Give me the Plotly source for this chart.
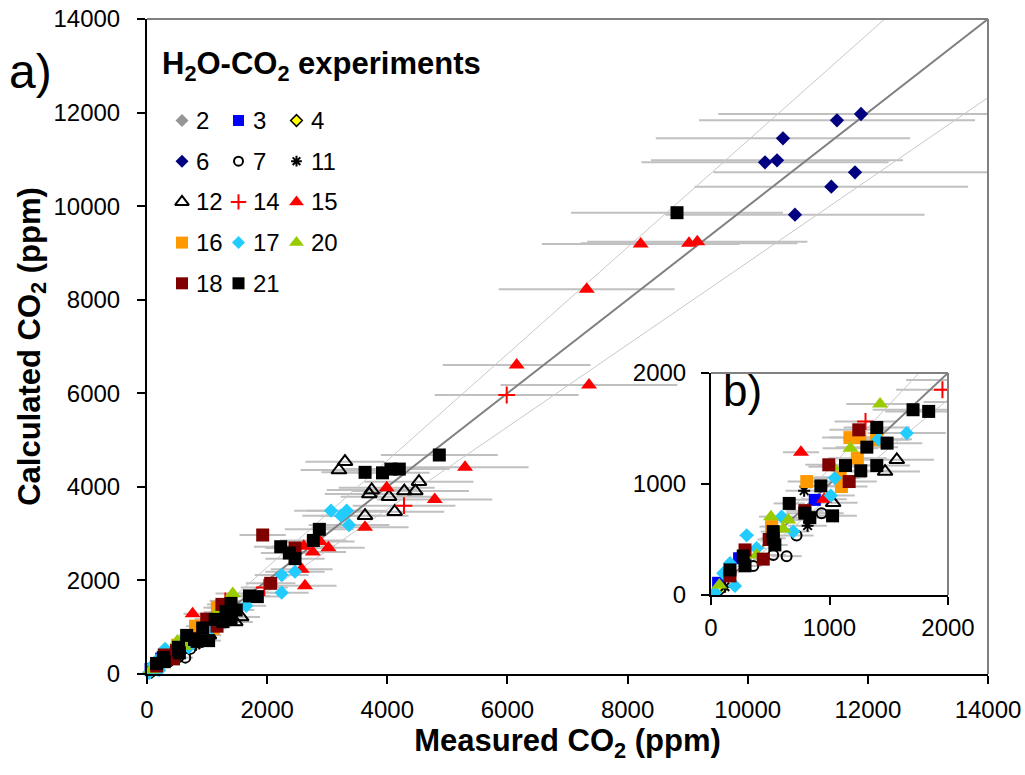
import plotly.graph_objects as go

# ---------------- data (measured CO2, calculated CO2), ppm ----------------
SERIES = ["2", "3", "4", "6", "7", "11", "12", "14", "15", "16", "17", "20", "18", "21"]

x2 = [45]
y2 = [35]
x3 = [876, 237, 60]
y3 = [857, 331, 110]
x4 = [80]
y4 = [55]
x6 = [11886, 11486, 10587, 10288, 10488, 11786, 11392, 10787]
y6 = [11969, 11834, 11450, 10937, 10980, 10723, 10416, 9817]
x7 = [933, 722, 525, 638, 357]
y7 = [737, 537, 361, 350, 262]
x11 = [786, 815, 118]
y11 = [940, 625, 75]
x12 = [3296, 3196, 4528, 3741, 3701, 4029, 4283, 4467, 3629, 4123, 1568, 1469, 1031]
y12 = [4538, 4360, 4110, 3933, 3847, 3790, 3911, 3911, 3384, 3469, 1218, 1112, 830]
x14 = [5988, 4278, 1953, 1304]
y14 = [5963, 3597, 1849, 1563]
x15 = [8218, 9023, 9161, 7320, 6154, 7358, 5294, 4790, 3990, 3629, 3020, 2880, 2610, 2760, 2575, 2630, 759, 955]
y15 = [9190, 9206, 9240, 8222, 6605, 6177, 4418, 3730, 3980, 3135, 2700, 2830, 2730, 2610, 2240, 1888, 1287, 863]
x16 = [1172, 1256, 1397, 1235, 808, 1101, 1090, 511]
y16 = [1418, 1418, 1398, 1233, 1022, 977, 1060, 616]
x17 = [3063, 3230, 3324, 3363, 2464, 2242, 2242, 1652, 1413, 1045, 1011, 694, 596, 301, 385, 202, 34, 160, 104]
y17 = [3491, 3384, 3491, 3185, 2187, 2116, 1738, 1459, 1404, 1053, 896, 571, 706, 538, 421, 82, 22, 286, 196]
x20 = [1427, 1177, 1028, 506, 652, 609, 385, 70]
y20 = [1720, 1323, 1155, 706, 676, 595, 361, 90]
x18 = [1926, 2464, 2059, 1247, 994, 1166, 792, 491, 287, 441, 160]
y18 = [2971, 2693, 1938, 1488, 1173, 1022, 760, 500, 406, 323, 172]
x21 = [8823, 4866, 3630, 3920, 4060, 4200, 2869, 2769, 2226, 2369, 2464, 1705, 1837, 1399, 1486,
       1315, 1399, 1264, 1135, 927, 1026, 792, 834, 660, 525, 525, 539, 272, 287, 160]
y21 = [9860, 4681, 4310, 4300, 4380, 4380, 3092, 2855, 2721, 2586, 2465, 1669, 1654, 1509, 1368,
       1332, 1166, 1119, 1166, 983, 713, 737, 697, 825, 571, 511, 451, 351, 263, 226]

REL_ERROR = 0.20                 # horizontal error bars, fraction of measured value
REF_SLOPES = [1.0, 1.14, 0.88]   # 1:1 line and the two envelope lines
MAIN_TICKS = [0, 2000, 4000, 6000, 8000, 10000, 12000, 14000]
INSET_TICKS = [0, 1000, 2000]

DATA = {
    "2": (x2, y2), "3": (x3, y3), "4": (x4, y4), "6": (x6, y6), "7": (x7, y7),
    "11": (x11, y11), "12": (x12, y12), "14": (x14, y14), "15": (x15, y15),
    "16": (x16, y16), "17": (x17, y17), "20": (x20, y20), "18": (x18, y18), "21": (x21, y21),
}

# ---------------- styles ----------------
STYLE = {
    "2": dict(symbol="diamond", size=11, color="#969696"),
    "3": dict(symbol="square", size=12, color="#0000FF"),
    "4": dict(symbol="diamond", size=10, color="#FFFF00", line=dict(color="black", width=1.5)),
    "6": dict(symbol="diamond", size=11, color="#000080"),
    "7": dict(symbol="circle-open", size=10, color="black", line=dict(color="black", width=2)),
    "11": dict(symbol="asterisk-open", size=10, color="black", line=dict(color="black", width=2)),
    "12": dict(symbol="triangle-up-open", size=13, color="black", line=dict(color="black", width=2)),
    "14": dict(symbol="cross-thin-open", size=12, color="#FF0000", line=dict(color="#FF0000", width=2)),
    "15": dict(symbol="triangle-up", size=14, color="#FF0000"),
    "16": dict(symbol="square", size=13, color="#FF9900"),
    "17": dict(symbol="diamond", size=11, color="#22CCFF"),
    "20": dict(symbol="triangle-up", size=14, color="#99CC00"),
    "18": dict(symbol="square", size=13, color="#800000"),
    "21": dict(symbol="square", size=13, color="#000000"),
}

FONT = "Liberation Sans, Arial, sans-serif"
W, H = 1025, 775
# plot area in page pixels
PX0, PX1, PY0, PY1 = 147, 988, 19, 674
L, R, T, B = PX0, W - PX1, PY0, H - PY1
PW, PH = PX1 - PX0, PY1 - PY0


def px2paper_x(px):
    return (px - PX0) / PW


def px2paper_y(py):
    return (PY1 - py) / PH


fig = go.Figure()

SUBPLOTS = [("x", "y", 14000), ("x2", "y2", 2000)]

for xa, ya, lim in SUBPLOTS:
    # error bars first (behind everything)
    for s in SERIES:
        xs, ys = DATA[s]
        fig.add_trace(go.Scatter(
            x=xs, y=ys, xaxis=xa, yaxis=ya, mode="markers",
            marker=dict(size=1, color="rgba(0,0,0,0)"),
            error_x=dict(type="data", array=[REL_ERROR * v for v in xs],
                         color="#C0C0C0", thickness=2, width=0),
            showlegend=False, hoverinfo="skip"))
    # reference lines
    for k, m in enumerate(REF_SLOPES):
        fig.add_trace(go.Scatter(
            x=[0, lim], y=[0, lim * m], xaxis=xa, yaxis=ya, mode="lines",
            line=dict(color="#808080" if k == 0 else "#C8C8C8", width=2 if k == 0 else 1),
            showlegend=False, hoverinfo="skip"))
    # markers
    for s in SERIES:
        xs, ys = DATA[s]
        st = STYLE[s]
        fig.add_trace(go.Scatter(
            x=xs, y=ys, xaxis=xa, yaxis=ya, mode="markers", name=s,
            marker=dict(symbol=st["symbol"], size=st["size"], color=st["color"],
                        line=st.get("line", dict(width=0))),
            showlegend=False, cliponaxis=(xa != "x")))

# custom 3-column legend on a pixel-mapped overlay axis
COL_X = [182, 238.5, 296.5]
ROW_Y0, ROW_DY = 120.5, 40.7
for i, s in enumerate(SERIES):
    r, c = divmod(i, 3)
    st = STYLE[s]
    fig.add_trace(go.Scatter(
        x=[COL_X[c]], y=[ROW_Y0 + r * ROW_DY], xaxis="x3", yaxis="y3", mode="markers",
        marker=dict(symbol=st["symbol"], size=st["size"] - 1, color=st["color"],
                    line=st.get("line", dict(width=0))),
        showlegend=False, hoverinfo="skip"))
    fig.add_annotation(x=px2paper_x(COL_X[c] + 12), y=px2paper_y(ROW_Y0 + r * ROW_DY),
                       xref="paper", yref="paper", xanchor="left", yanchor="middle",
                       text=s, showarrow=False, font=dict(family=FONT, size=24, color="black"))

fig.add_annotation(x=px2paper_x(160), y=px2paper_y(66), xref="paper", yref="paper",
                   xanchor="left", yanchor="middle", showarrow=False,
                   text="<b>H<sub>2</sub>O-CO<sub>2</sub> experiments</b>",
                   font=dict(family=FONT, size=31, color="black"))
fig.add_annotation(x=px2paper_x(7), y=px2paper_y(71), xref="paper", yref="paper",
                   xanchor="left", yanchor="middle", showarrow=False, text="a)",
                   font=dict(family=FONT, size=48, color="black"))
fig.add_annotation(x=px2paper_x(721), y=px2paper_y(390), xref="paper", yref="paper",
                   xanchor="left", yanchor="middle", showarrow=False, text="b)",
                   font=dict(family=FONT, size=44, color="black"))

axis_common = dict(showgrid=False, zeroline=False, ticks="outside", ticklen=8, tickwidth=1.5,
                   tickcolor="black", showline=True, linecolor="black", linewidth=2,
                   tickformat="d", tickfont=dict(family=FONT, size=24, color="black"),
                   ticklabeloverflow="allow", mirror=False)

fig.update_layout(
    width=W, height=H, margin=dict(l=L, r=R, t=T, b=B, pad=0, autoexpand=False),
    paper_bgcolor="white", plot_bgcolor="rgba(0,0,0,0)", showlegend=False,
    xaxis=dict(axis_common, domain=[0, 1], range=[0, 14000], tickvals=MAIN_TICKS,
               anchor="y", ticklabelstandoff=5,
               title=dict(text="<b>Measured CO<sub>2</sub> (ppm)</b>", standoff=8,
                          font=dict(family=FONT, size=31, color="black"))),
    yaxis=dict(axis_common, domain=[0, 1], range=[0, 14000], tickvals=MAIN_TICKS,
               anchor="x", ticklabelstandoff=12,
               title=dict(text="<b>Calculated CO<sub>2</sub> (ppm)</b>", standoff=4,
                          font=dict(family=FONT, size=31, color="black"))),
    xaxis2=dict(axis_common, domain=[px2paper_x(711), px2paper_x(948)], range=[0, 2000],
                tickvals=INSET_TICKS, anchor="y2", ticklabelstandoff=2),
    yaxis2=dict(axis_common, domain=[px2paper_y(595), px2paper_y(373)], range=[0, 2000],
                tickvals=INSET_TICKS, anchor="x2", ticklabelstandoff=10),
    xaxis3=dict(domain=[0, 1], range=[PX0, PX1], visible=False, anchor="y3"),
    yaxis3=dict(domain=[0, 1], range=[PY1, PY0], visible=False, anchor="x3"),
)

# grey top/right frame of the main plot and the inset
for xa, ya in [("x", "y"), ("x2", "y2")]:
    fig.add_shape(type="line", xref=f"{xa} domain", yref=f"{ya} domain", x0=0, x1=1, y0=1, y1=1,
                  line=dict(color="#808080", width=2))
    fig.add_shape(type="line", xref=f"{xa} domain", yref=f"{ya} domain", x0=1, x1=1, y0=0, y1=1,
                  line=dict(color="#808080", width=2))

fig.write_html("out.html", config={"displayModeBar": False},
               post_script="document.body.style.margin='0px';document.body.style.overflow='hidden';")
